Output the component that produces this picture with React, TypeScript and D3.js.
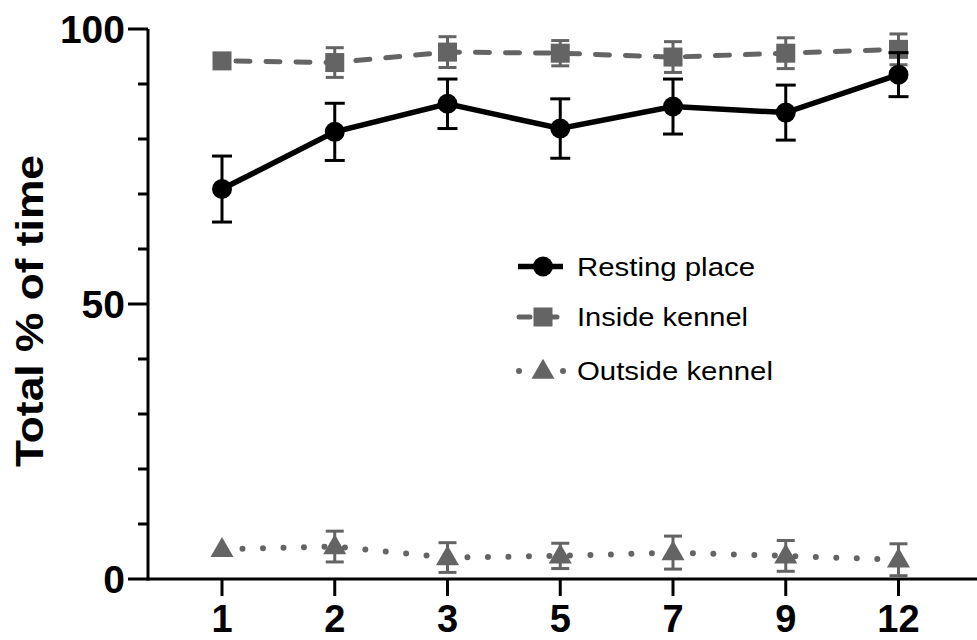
import React from "react";
import * as d3 from "d3";

const categories = ["1", "2", "3", "5", "7", "9", "12"];
const restingMean = [70.9, 81.3, 86.4, 81.9, 85.9, 84.8, 91.7];
const restingErr = [6.0, 5.2, 4.5, 5.4, 5.0, 5.0, 4.0];
const insideMean = [94.2, 93.9, 95.8, 95.6, 94.9, 95.6, 96.3];
const insideErr = [0, 2.7, 2.8, 2.3, 2.8, 2.8, 2.8];
const outsideMean = [5.4, 5.9, 3.9, 4.2, 4.8, 4.2, 3.5];
const outsideErr = [0, 2.8, 2.7, 2.3, 3.0, 2.8, 2.9];
const yTicks = [0, 50, 100];
const yMinorTicks = [10, 20, 30, 40, 60, 70, 80, 90];
const legendLabels = ["Resting place", "Inside kennel", "Outside kennel"];
const yTitle = "Total % of time";

const W = 977;
const H = 640;
const FONT = "'Liberation Sans', Arial, Helvetica, sans-serif";
const GRAY = "#646464";

export default function App() {
  const x = d3.scalePoint<string>().domain(categories).range([222, 898.5]);
  const y = d3.scaleLinear().domain([0, 100]).range([579, 29]);
  const axisX = 148;

  const line = d3
    .line<number>()
    .x((_, i) => x(categories[i]) as number)
    .y((d) => y(d));

  const triangle = d3.symbol().type(d3.symbolTriangle).size(230)();

  const errorBars = (means: number[], errs: number[], color: string, capW: number, sw: number) =>
    means.map((m, i) => {
      if (!errs[i]) return null;
      const cx = x(categories[i]) as number;
      const y1 = y(m + errs[i]);
      const y2 = y(m - errs[i]);
      return (
        <g key={i} stroke={color} strokeWidth={sw}>
          <line x1={cx} x2={cx} y1={y1} y2={y2} />
          <line x1={cx - capW / 2} x2={cx + capW / 2} y1={y1} y2={y1} />
          <line x1={cx - capW / 2} x2={cx + capW / 2} y1={y2} y2={y2} />
        </g>
      );
    });

  const legendRows = [266.5, 317, 371];
  const legendLens = [178, 171, 196];

  return (
    <svg width={W} height={H} style={{ position: "absolute", left: 0, top: 0 }}>
      <rect width={W} height={H} fill="#fff" />

      {/* axes */}
      <line x1={axisX} x2={axisX} y1={y(100)} y2={y(0) + 1.5} stroke="#000" strokeWidth={3} />
      <line x1={axisX - 1.5} x2={W} y1={y(0)} y2={y(0)} stroke="#000" strokeWidth={3} />
      {yTicks.map((t) => (
        <g key={t}>
          <line x1={128} x2={axisX} y1={y(t)} y2={y(t)} stroke="#000" strokeWidth={3} />
          <text
            x={125}
            y={y(t) + 14}
            textAnchor="end"
            fontFamily={FONT}
            fontWeight="bold"
            fontSize={39}
            fill="#000"
          >
            {t}
          </text>
        </g>
      ))}
      {yMinorTicks.map((t) => (
        <line key={t} x1={138} x2={axisX} y1={y(t)} y2={y(t)} stroke="#000" strokeWidth={3} />
      ))}
      {categories.map((c) => (
        <g key={c}>
          <line x1={x(c)} x2={x(c)} y1={y(0)} y2={596} stroke="#000" strokeWidth={3} />
          <text
            x={x(c)}
            y={632}
            textAnchor="middle"
            fontFamily={FONT}
            fontWeight="bold"
            fontSize={38}
            fill="#000"
          >
            {c}
          </text>
        </g>
      ))}
      <text
        transform={`translate(43, 311) rotate(-90)`}
        textAnchor="middle"
        fontFamily={FONT}
        fontWeight="bold"
        fontSize={39}
        textLength={312}
        lengthAdjust="spacingAndGlyphs"
        fill="#000"
      >
        {yTitle}
      </text>

      {/* Inside kennel */}
      <path
        d={line(insideMean) || ""}
        fill="none"
        stroke={GRAY}
        strokeWidth={5}
        strokeDasharray="14 16"
        strokeDashoffset={-14}
        strokeLinecap="round"
      />
      {errorBars(insideMean, insideErr, GRAY, 18, 3)}
      {insideMean.map((m, i) => (
        <rect
          key={i}
          x={(x(categories[i]) as number) - 9.5}
          y={y(m) - 9.5}
          width={19}
          height={19}
          fill={GRAY}
        />
      ))}

      {/* Outside kennel */}
      <path
        d={line(outsideMean) || ""}
        fill="none"
        stroke={GRAY}
        strokeWidth={6}
        strokeDasharray="0 20.5"
        strokeLinecap="round"
      />
      {errorBars(outsideMean, outsideErr, GRAY, 18, 3)}
      {outsideMean.map((m, i) => (
        <path
          key={i}
          d={triangle || ""}
          transform={`translate(${x(categories[i])}, ${y(m) + 1})`}
          fill={GRAY}
        />
      ))}

      {/* Resting place */}
      <path d={line(restingMean) || ""} fill="none" stroke="#000" strokeWidth={5.5} />
      {errorBars(restingMean, restingErr, "#000", 20, 3)}
      {restingMean.map((m, i) => (
        <circle key={i} cx={x(categories[i])} cy={y(m)} r={10} fill="#000" />
      ))}

      {/* Legend */}
      <g>
        <line x1={518} x2={563} y1={legendRows[0]} y2={legendRows[0]} stroke="#000" strokeWidth={5.5} />
        <circle cx={543} cy={legendRows[0]} r={10} fill="#000" />

        <line x1={519} x2={530} y1={legendRows[1]} y2={legendRows[1]} stroke={GRAY} strokeWidth={5} strokeLinecap="round" />
        <line x1={552} x2={557} y1={legendRows[1]} y2={legendRows[1]} stroke={GRAY} strokeWidth={5} strokeLinecap="round" />
        <rect x={533.5} y={legendRows[1] - 9.5} width={19} height={19} fill={GRAY} />

        <circle cx={519} cy={legendRows[2]} r={3} fill={GRAY} />
        <circle cx={563} cy={legendRows[2]} r={3} fill={GRAY} />
        <path d={triangle || ""} transform={`translate(543, ${legendRows[2] + 1})`} fill={GRAY} />

        {legendLabels.map((l, i) => (
          <text
            key={l}
            x={577}
            y={legendRows[i] + 9}
            fontFamily={FONT}
            fontSize={26}
            textLength={legendLens[i]}
            lengthAdjust="spacingAndGlyphs"
            fill="#000"
          >
            {l}
          </text>
        ))}
      </g>
    </svg>
  );
}
